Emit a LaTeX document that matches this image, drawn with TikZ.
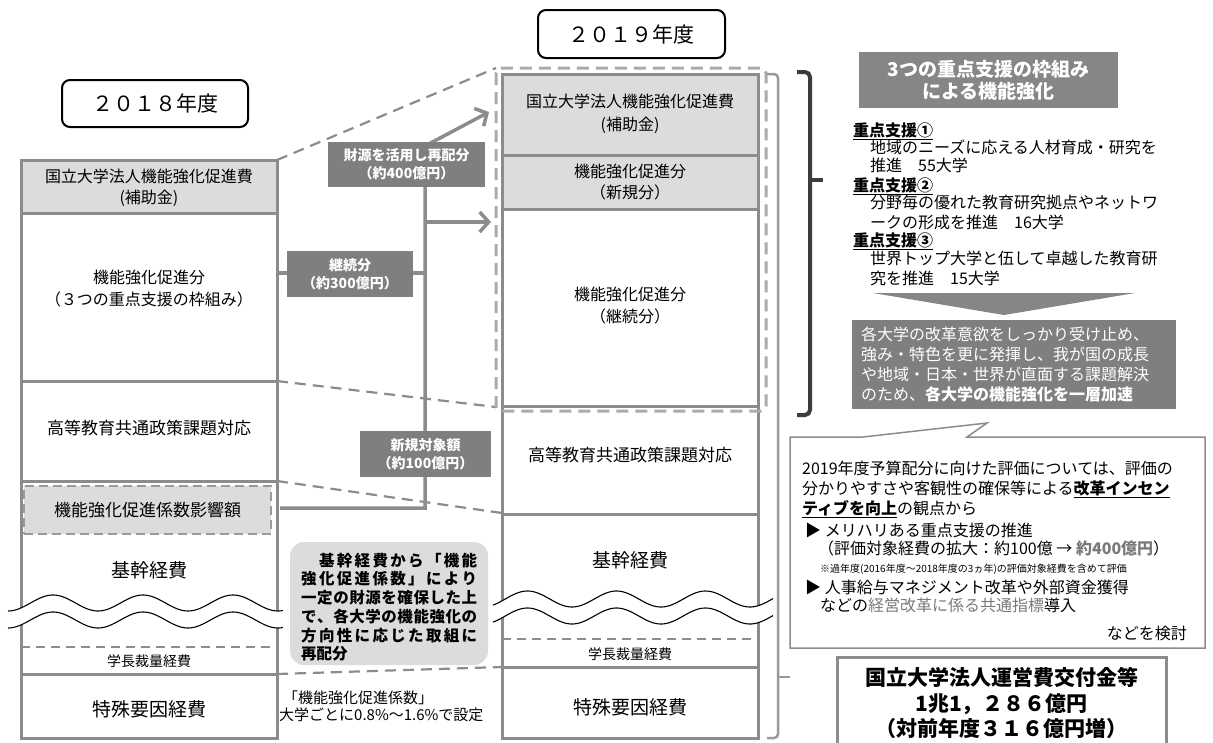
\documentclass[tikz,border=0pt]{standalone}
\usepackage{fontspec}
\setmainfont{Noto Sans CJK JP}
\usetikzlibrary{arrows.meta}
\definecolor{gb}{HTML}{8C8C8C}
\definecolor{gf}{HTML}{DCDCDC}
\definecolor{gl}{HTML}{7F7F7F}
\definecolor{gh}{HTML}{868686}
\definecolor{gd}{HTML}{ABABAB}
\definecolor{gk}{HTML}{3C3C3C}
\definecolor{gt}{HTML}{7A7A7A}
\definecolor{gbr}{HTML}{9A9A9A}
\newcommand\fsz[2]{\fontsize{#1}{#2}\selectfont}
\makeatletter
\def\sprline#1{\hbox to 176pt{\spr@a#1\relax}}
\def\spr@a#1{#1\spr@b}
\def\spr@b#1{\ifx\relax#1\else\hfill#1\expandafter\spr@b\fi}
\makeatother
\tikzset{
 colframe/.style={draw=gb, line width=3pt},
 secline/.style={draw=gb, line width=3pt},
 thindash/.style={draw=gb, line width=2pt, dash pattern=on 9pt off 6pt},
 linkdash/.style={draw=gb, line width=2.2pt, dash pattern=on 11pt off 7pt},
 outerdash/.style={draw=gd, line width=3pt, dash pattern=on 12pt off 7pt, rounded corners=5pt},
 flow/.style={draw=gb, line width=3.5pt},
 flowarr/.style={flow, -{Straight Barb[length=9pt,width=20pt]}},
 lbl/.style={fill=gl, text=white, font=\bfseries\fsz{14}{18}, align=center, inner sep=0pt},
 ctr/.style={align=center, inner sep=0pt},
 yearbox/.style={draw=black, line width=2pt, rounded corners=8pt, inner sep=0pt, font=\fsz{21}{25}},
 rt/.style={anchor=base west, inner sep=0pt, font=\fsz{16}{18}},
 wave/.style={draw=black, line width=1.1pt},
 gline/.style={anchor=base west, inner sep=0pt, font=\bfseries\fsz{15.5}{18}},
}
\begin{document}
\begin{tikzpicture}[x=1pt,y=-1pt]
\useasboundingbox (0,0) rectangle (1213,742);
\fill[white] (0,0) rectangle (1213,742);

% ---------- named coordinates ----------
\coordinate (Ltr) at (277,160); \coordinate (Otl) at (496,68);
\coordinate (Lmid) at (277,381); \coordinate (Obl) at (496,407);
\coordinate (Lk) at (277,481); \coordinate (Mk) at (502,513);
\coordinate (Lt) at (277,674); \coordinate (Mt) at (502,667);
\coordinate (kin) at (280,508); \coordinate (tk) at (425,508);
\coordinate (ttop) at (425,146); \coordinate (tip1) at (489,112);
\coordinate (br) at (425,222); \coordinate (tip2) at (491,222);
\coordinate (lk) at (277,273); \coordinate (tk2) at (425,273);

% ---------- dashed links ----------
\draw[linkdash] (Ltr) -- (Otl);
\draw[linkdash] (Lmid) -- (Obl);
\draw[linkdash] (Lk) -- (Mk);
\draw[linkdash] (Lt) -- (Mt);

% ---------- left column (2018) ----------
\fill[gf] (21,160) rectangle (277,213);
\draw[secline] (21,213) -- (277,213);
\draw[secline] (21,381) -- (277,381);
\draw[secline] (21,481) -- (277,481);
\draw[secline] (21,674) -- (277,674);
\draw[thindash] (21,647) -- (277,647);
\draw[colframe] (21,160) rectangle (277,738);
\node[draw=gbr, fill=gf, line width=2.2pt, dash pattern=on 9pt off 5pt, minimum width=247pt, minimum height=48pt, inner sep=0pt, font=\fsz{17}{20}] (kyo) at (147.5,510) {機能強化促進係数影響額};

% ---------- middle column (2019) ----------
\fill[gf] (502,74) rectangle (758,209);
\draw[secline] (502,155) -- (758,155);
\draw[secline] (502,209) -- (758,209);
\draw[secline] (502,406) -- (758,406);
\draw[secline] (502,514) -- (758,514);
\draw[secline] (502,667) -- (758,667);
\draw[thindash] (502,639) -- (758,639);
\draw[colframe] (502,74) rectangle (758,738);
\draw[outerdash] (496,68) rectangle (766,411);

% ---------- waves ----------
\path[fill=white] plot[domain=8:283, samples=120] (\x,{603+8*cos(4*(\x-8))}) -- plot[domain=283:8, samples=120] (\x,{620+8*cos(4*(\x-8))}) -- cycle;
\draw[wave] plot[domain=8:283, samples=120] (\x,{603+8*cos(4*(\x-8))});
\draw[wave] plot[domain=8:283, samples=120] (\x,{620+8*cos(4*(\x-8))});
\path[fill=white] plot[domain=493:773, samples=120] (\x,{599+8*cos(4.045*(\x-572))}) -- plot[domain=773:493, samples=120] (\x,{616+8*cos(4.045*(\x-572))}) -- cycle;
\draw[wave] plot[domain=493:773, samples=120] (\x,{599+8*cos(4.045*(\x-572))});
\draw[wave] plot[domain=493:773, samples=120] (\x,{616+8*cos(4.045*(\x-572))});

% ---------- flows ----------
\draw[flow] (lk) -- (tk2);
\draw[flowarr] (kin) -- (tk) -- (ttop) -- (tip1);
\draw[flowarr] (br) -- (tip2);
\node[lbl, minimum width=157pt, minimum height=45pt] (zai) at (406.5,164.5) {財源を活用し再配分\\（約400億円）};
\node[lbl, minimum width=126pt, minimum height=46pt] (kei) at (350,274) {継続分\\（約300億円）};
\node[lbl, minimum width=131pt, minimum height=46pt] (shin) at (425.5,454) {新規対象額\\（約100億円）};

% ---------- gray rounded note ----------
\node[fill=gf, rounded corners=14pt, minimum width=198pt, minimum height=123pt, inner sep=0pt] (gbx) at (389,603.5) {};
\node[gline] (g1) at (301,566) {\sprline{　基幹経費から「機能}};
\node[gline] (g2) at (301,584) {\sprline{強化促進係数」により}};
\node[gline] (g3) at (301,603) {\sprline{一定の財源を確保した上}};
\node[gline] (g4) at (301,622) {\sprline{で、各大学の機能強化の}};
\node[gline] (g5) at (301,641) {\sprline{方向性に応じた取組に}};
\node[gline] (g6) at (301,659) {再配分};

\node[anchor=base west, inner sep=0pt, font=\fsz{15}{18}] (k1) at (283,703) {「機能強化促進係数」};
\node[anchor=base west, inner sep=0pt, font=\fsz{15}{18}] (k2) at (279,720) {大学ごとに0.8\%～1.6\%で設定};

% ---------- year boxes ----------
\node[yearbox, minimum width=186pt, minimum height=47pt] (y18) at (155,103.5) {２０１８年度};
\node[yearbox, minimum width=187pt, minimum height=48pt] (y19) at (631.5,34) {２０１９年度};

% ---------- column texts ----------
\node[ctr, font=\fsz{16}{21}] (l1) at (149,188) {国立大学法人機能強化促進費\\(補助金)};
\node[ctr, font=\fsz{16}{22}] (l2) at (149,289) {機能強化促進分\\（３つの重点支援の枠組み）};
\node[ctr, font=\fsz{17}{20}] (l3) at (149,428) {高等教育共通政策課題対応};
\node[ctr, font=\fsz{19}{22}] (l5) at (149,570) {基幹経費};
\node[ctr, font=\fsz{14}{17}] (l6) at (149,661) {学長裁量経費};
\node[ctr, font=\fsz{19}{22}] (l7) at (149,709) {特殊要因経費};

\node[ctr, font=\fsz{16}{23}] (m1) at (630,114) {国立大学法人機能強化促進費\\(補助金)};
\node[ctr, font=\fsz{16}{21}] (m2) at (630,182) {機能強化促進分\\（新規分）};
\node[ctr, font=\fsz{16}{22}] (m3) at (630,306) {機能強化促進分\\（継続分）};
\node[ctr, font=\fsz{17}{20}] (m4) at (630,455) {高等教育共通政策課題対応};
\node[ctr, font=\fsz{19}{22}] (m5) at (630,560) {基幹経費};
\node[ctr, font=\fsz{14}{17}] (m6) at (630,654) {学長裁量経費};
\node[ctr, font=\fsz{19}{22}] (m7) at (630,707) {特殊要因経費};

% ---------- brackets ----------
\draw[draw=gbr, line width=2.5pt, rounded corners=4pt] (767,74) -- (778,74) -- (778,738) -- (767,738);
\draw[draw=gbr, line width=2.5pt] (778,677) -- (790,677);
\draw[draw=gk, line width=4pt, rounded corners=5pt] (797,72) -- (810,72) -- (810,415) -- (797,415);
\draw[draw=gk, line width=4pt] (810,180) -- (823,180);

% ---------- right: support frame ----------
\node[fill=gh, text=white, font=\bfseries\fsz{19}{22}, align=center, minimum width=259pt, minimum height=56pt, inner sep=0pt] (ttl) at (988.5,80) {3つの重点支援の枠組み\\による機能強化};
\node[rt, font=\bfseries\fsz{16}{18}] (h1) at (853,136) {\underline{重点支援①}};
\node[rt] (t1) at (870,153) {地域のニーズに応える人材育成・研究を};
\node[rt] (t2) at (870,171) {推進　55大学};
\node[rt, font=\bfseries\fsz{16}{18}] (h2) at (853,191) {\underline{重点支援②}};
\node[rt] (t3) at (870,208) {分野毎の優れた教育研究拠点やネットワ};
\node[rt] (t4) at (870,228) {ークの形成を推進　16大学};
\node[rt, font=\bfseries\fsz{16}{18}] (h3) at (853,246) {\underline{重点支援③}};
\node[rt] (t5) at (870,264) {世界トップ大学と伍して卓越した教育研};
\node[rt] (t6) at (870,284) {究を推進　15大学};

\fill[gh] (873,293) -- (1135,293) -- (1004,315) -- cycle;

\node[fill=gl, text=white, font=\fsz{16}{20}, align=left, text width=306pt, inner xsep=9pt, inner ysep=7pt, anchor=north west] (dk) at (852,320) {各大学の改革意欲をしっかり受け止め、\\強み・特色を更に発揮し、我が国の成長\\や地域・日本・世界が直面する課題解決\\のため、\textbf{各大学の機能強化を一層加速}};

% ---------- callout ----------
\draw[draw=gb, line width=1.5pt, fill=white] (967,437) -- (1205,437) -- (1205,648) -- (790,648) -- (790,437) -- (863,437) -- (987,423) -- cycle;
\node[rt] (c1) at (802,474) {2019年度予算配分に向けた評価については、評価の};
\node[rt] (c2) at (802,494) {分かりやすさや客観性の確保等による\underline{\textbf{改革インセン}}};
\node[rt] (c3) at (802,514) {\underline{\textbf{ティブを向上}}の観点から};
\node[rt] (c4) at (805,536) {▶ メリハリある重点支援の推進};
\node[rt] (c5) at (818,554) {（評価対象経費の拡大：約100億 → \textbf{\color{gt}約400億円}）};
\node[rt, font=\fsz{10}{12}] (c6) at (820,572) {※過年度(2016年度～2018年度の3ヵ年)の評価対象経費を含めて評価};
\node[rt] (c7) at (805,593) {▶ 人事給与マネジメント改革や外部資金獲得};
\node[rt] (c8) at (820,611) {などの{\color{gt}経営改革に係る共通指標}導入};
\node[rt, anchor=base east] (c9) at (1187,639) {などを検討};

% ---------- total box ----------
\draw[draw=gb, line width=3pt] (837,760) -- (837,657) -- (1166,657) -- (1166,760);
\node[ctr, font=\bfseries\fsz{21}{25.5}] (tot) at (1001.5,703) {国立大学法人運営費交付金等\\1兆1，２８６億円\\（対前年度３１６億円増）};
\end{tikzpicture}
\end{document}
